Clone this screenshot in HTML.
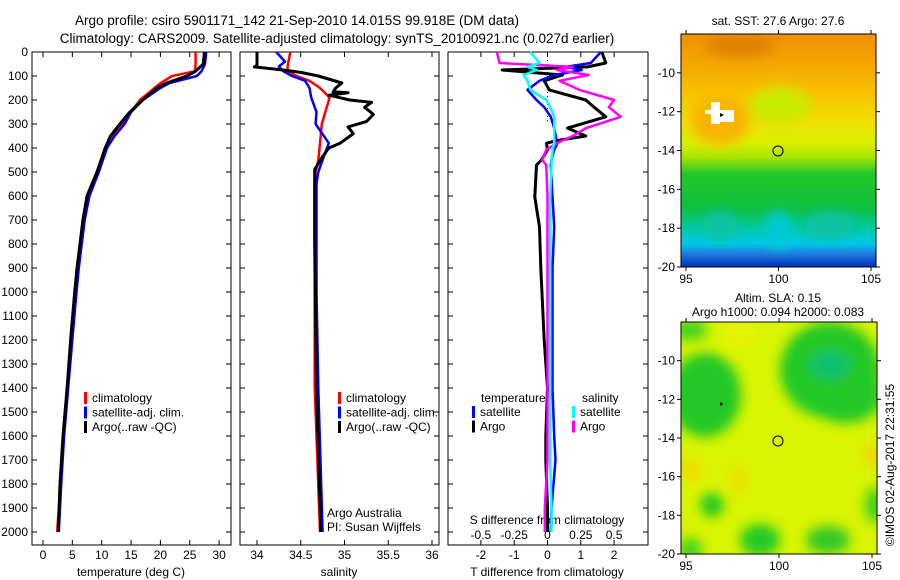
<!DOCTYPE html>
<html><head><meta charset="utf-8"><style>
html,body{margin:0;padding:0;background:#fff;}
svg{display:block;font-family:"Liberation Sans",sans-serif;}
</style></head><body>
<svg id="c" width="900" height="580" viewBox="0 0 900 580">
<defs>
<linearGradient id="sstg" x1="0" y1="0" x2="0" y2="1">
<stop offset="0" stop-color="#f09000"/><stop offset="0.12" stop-color="#f4a400"/>
<stop offset="0.25" stop-color="#f8c000"/><stop offset="0.38" stop-color="#f0e000"/>
<stop offset="0.47" stop-color="#d8f000"/><stop offset="0.53" stop-color="#a8e400"/>
<stop offset="0.6" stop-color="#20c828"/><stop offset="0.75" stop-color="#10c040"/>
<stop offset="0.83" stop-color="#00c8a0"/><stop offset="0.9" stop-color="#00c8e8"/>
<stop offset="0.94" stop-color="#2080e0"/><stop offset="1" stop-color="#0030c0"/>
</linearGradient>
<filter id="bl"><feGaussianBlur stdDeviation="6"/></filter>
<clipPath id="m1"><rect x="681" y="34" width="195" height="233"/></clipPath>
<clipPath id="m2"><rect x="681" y="322" width="196" height="232"/></clipPath>
</defs>
<text x="297" y="25" font-size="13.5" text-anchor="middle">Argo profile: csiro 5901171_142 21-Sep-2010 14.015S 99.918E (DM data)</text>
<text x="337" y="43" font-size="13.5" text-anchor="middle">Climatology: CARS2009. Satellite-adjusted climatology: synTS_20100921.nc (0.027d earlier)</text>
<g id="plots"></g>
<g>
<text x="778" y="25" font-size="12" text-anchor="middle">sat. SST: 27.6 Argo: 27.6</text>
<g clip-path="url(#m1)">
<rect x="681" y="34" width="195" height="233" fill="url(#sstg)"/>
<g filter="url(#bl)">
<ellipse cx="720" cy="225" rx="18" ry="14" fill="#10c0a0"/>
<ellipse cx="830" cy="225" rx="25" ry="14" fill="#10c0a0"/>
<ellipse cx="778" cy="230" rx="12" ry="20" fill="#00c8d8"/>
<ellipse cx="740" cy="45" rx="35" ry="12" fill="#e08000"/>
<ellipse cx="720" cy="120" rx="30" ry="25" fill="#f8b400"/>
<ellipse cx="780" cy="105" rx="30" ry="18" fill="#c8ec00"/>
</g>
<rect x="711" y="102" width="9" height="22" fill="#fff"/><rect x="716" y="110" width="18" height="12" fill="#fff"/>
<rect x="705" y="110" width="8" height="4" fill="#fff"/>
<polygon points="720,113 724,115 720,117" fill="#000"/>
<circle cx="778" cy="151" r="5" fill="none" stroke="#000" stroke-width="1"/>
</g>
<rect x="681" y="34" width="195" height="233" fill="none" stroke="#000"/>
</g>
<g>
<text x="778" y="302" font-size="12" text-anchor="middle">Altim. SLA: 0.15</text>
<text x="778" y="316" font-size="12" text-anchor="middle">Argo h1000: 0.094 h2000: 0.083</text>
<g clip-path="url(#m2)">
<rect x="681" y="322" width="196" height="232" fill="#d8f400"/>
<g filter="url(#bl)">
<ellipse cx="705" cy="395" rx="36" ry="42" fill="#20c828"/>
<ellipse cx="690" cy="330" rx="18" ry="10" fill="#40d020"/>
<ellipse cx="830" cy="370" rx="50" ry="48" fill="#20c828"/>
<ellipse cx="845" cy="395" rx="38" ry="28" fill="#20c828"/>
<ellipse cx="830" cy="365" rx="20" ry="14" fill="#10c070"/>
<ellipse cx="712" cy="505" rx="12" ry="12" fill="#20c828"/>
<ellipse cx="760" cy="540" rx="20" ry="16" fill="#20c828"/>
<ellipse cx="828" cy="540" rx="22" ry="14" fill="#30c828"/>
<ellipse cx="690" cy="550" rx="12" ry="12" fill="#40d020"/>
<ellipse cx="875" cy="505" rx="10" ry="18" fill="#40d020"/>
<ellipse cx="740" cy="335" rx="15" ry="12" fill="#e8f400"/>
<ellipse cx="873" cy="455" rx="10" ry="12" fill="#f0d800"/>
<ellipse cx="738" cy="480" rx="8" ry="15" fill="#f0dc00"/>
<ellipse cx="690" cy="470" rx="12" ry="12" fill="#f0dc00"/>
</g>
<polygon points="720,402 723,404 720,406" fill="#000"/>
<circle cx="778" cy="441" r="5" fill="none" stroke="#000" stroke-width="1"/>
</g>
<rect x="681" y="322" width="196" height="232" fill="none" stroke="#000"/>
</g>
<text transform="translate(894,465) rotate(-90)" font-size="12" text-anchor="middle">©IMOS 02-Aug-2017 22:31:55</text>
</svg>
<script>
// depth levels (m) and profile values
const tDepth=[0,50,80,100,130,150,200,250,300,350,400,500,600,700,800,900,1000,1200,1400,1600,1800,2000];
const tArgo=[27.5,27.3,26,24.5,21,19.4,17,14.8,13.1,11.5,10.6,9.2,7.5,6.8,6.3,5.8,5.4,4.7,4.1,3.4,2.9,2.6];
const tClim=[26,26,25.9,22,20,19,16.5,15,13.6,12,10.8,9.3,7.8,7,6.5,6,5.6,4.9,4.2,3.5,3,2.4];
const tSat=[27.8,27.6,27,26.2,21.5,20,17,15,13.9,12.2,10.9,9.5,7.9,7.1,6.6,6.1,5.7,5,4.3,3.6,3.1,2.7];
const sArgoD=[0,55,62,75,85,100,129,150,166,170,180,200,210,230,260,290,312,340,380,400,440,490,550,800,1400,2000];
const sArgo=[34.0,34.0,33.97,34.3,34.5,34.7,34.97,34.9,34.87,35.04,34.82,35.06,35.31,35.23,35.33,35.25,35.04,35.1,34.95,34.82,34.74,34.66,34.66,34.66,34.68,34.73];
const sD=[0,40,60,80,100,120,150,190,250,300,380,450,500,550,700,1000,1400,2000];
const sClim=[34.38,34.36,34.35,34.35,34.45,34.6,34.72,34.83,34.78,34.74,34.72,34.7,34.67,34.66,34.66,34.66,34.66,34.72];
const sSat=[34.22,34.32,34.25,34.3,34.4,34.55,34.6,34.62,34.68,34.67,34.82,34.75,34.7,34.68,34.68,34.68,34.7,34.75];
const dD=[0,46,62,75,96,120,158,200,230,270,317,350,367,380,408,450,471,604,729,900,1200,1400,1600,1700,1900,2000];
const dTArgo=[1.63,1.75,1.2,-1.36,0.45,-0.1,0.05,1.15,1.4,1.75,0.6,1.15,0.36,-0.03,0,-0.18,-0.33,-0.38,-0.24,-0.2,-0.1,0,-0.05,-0.05,0,0];
const dTSat=[1.6,1.3,0.55,1.03,0.2,-0.24,-0.6,-0.33,-0.1,0.1,0.2,0.25,0.26,0.3,0.2,0.12,0.1,0.15,0.2,0.15,0.15,0.15,0.2,0.24,0.12,0.1];
const dSArgo=[-0.38,-0.36,0.19,0.07,0.31,0.09,0.24,0.5,0.46,0.55,0.29,0.19,0.12,0.07,-0.01,-0.04,-0.01,0,0,0,0,0,0,0,-0.02,-0.02];
const dSSat=[-0.13,-0.06,-0.15,-0.08,-0.18,-0.15,-0.13,-0.01,0.02,0.05,0.05,0.05,0.05,0.05,0.04,0.03,0.03,0.02,0.02,0.02,0.02,0.02,0.02,0.02,0.03,0.03];
const depthTicks=[0,100,200,300,400,500,600,700,800,900,1000,1100,1200,1300,1400,1500,1600,1700,1800,1900,2000];
const tTicks=[0,5,10,15,20,25,30];
const sTicks=[34,34.5,35,35.5,36];
const dtTicks=[-2,-1,0,1,2];
const dsTicks=[-0.5,-0.25,0,0.25,0.5];
const lonTicks=[95,100,105];
const latTicks=[-10,-12,-14,-16,-18,-20];

const NS='http://www.w3.org/2000/svg';
const root=document.getElementById('plots');
const TOP=52,BOT=545;
const yD=d=>TOP+d*0.24;
const xT=v=>43+v*5.87;
const xS=v=>257+(v-34)*87.5;
const xDT=v=>547.5+v*33.3;
const xDS=v=>547.5+v*133.2;
function el(tag,attrs,parent){const e=document.createElementNS(NS,tag);for(const k in attrs)e.setAttribute(k,attrs[k]);(parent||root).appendChild(e);return e;}
function txt(x,y,s,anchor,parent,size){const t=el('text',{x:x,y:y,'font-size':size||12,'text-anchor':anchor||'start'},parent);t.textContent=s;return t;}
function line(depths,vals,xf,color,w,name,parent){
  const pts=depths.map((d,i)=>xf(vals[i]).toFixed(1)+','+yD(d).toFixed(1)).join(' ');
  const p=el('polyline',{points:pts,fill:'none',stroke:color,'stroke-width':w,'stroke-linejoin':'round'},parent);
  
  
}
function panel(x0,x1,name){
  const g=el('g',{});
  
  
  el('rect',{x:x0,y:TOP,width:x1-x0,height:BOT-TOP,fill:'none',stroke:'#000'},g);
  depthTicks.forEach(d=>{el('line',{x1:x0,x2:x0+5,y1:yD(d),y2:yD(d),stroke:'#000'},g);el('line',{x1:x1,x2:x1-5,y1:yD(d),y2:yD(d),stroke:'#000'},g);});
  return g;
}
function xticks(g,ticks,xf,labels){
  ticks.forEach(v=>{const x=xf(v);el('line',{x1:x,x2:x,y1:TOP,y2:TOP+5,stroke:'#000'},g);el('line',{x1:x,x2:x,y1:BOT,y2:BOT-5,stroke:'#000'},g);if(labels)txt(x,559,String(v),'middle',g);});
}
// panel 1
const g1=panel(32,231,'temperature-panel');
depthTicks.forEach(d=>txt(28,yD(d)+4,String(d),'end',g1));
xticks(g1,tTicks,xT,true);
txt(131,576,'temperature (deg C)','middle',g1);
line(tDepth,tClim,xT,'#f00',2.5,'temp-climatology-line',g1);
line(tDepth,tSat,xT,'#00f',2.5,'temp-satellite-line',g1);
line(tDepth,tArgo,xT,'#000',3,'temp-argo-line',g1);
// panel 2
const g2=panel(240,439,'salinity-panel');
xticks(g2,sTicks,xS,true);
txt(339,576,'salinity','middle',g2);
line(sD,sClim,xS,'#f00',2.5,'sal-climatology-line',g2);
line(sD,sSat,xS,'#00f',2.5,'sal-satellite-line',g2);
line(sArgoD,sArgo,xS,'#000',3,'sal-argo-line',g2);
txt(327,517,'Argo Australia','start',g2);
txt(327,531,'PI: Susan Wijffels','start',g2);
// panel 3
const g3=panel(448,648,'difference-panel');
dtTicks.forEach(v=>{const x=xDT(v);el('line',{x1:x,x2:x,y1:BOT,y2:BOT-5,stroke:'#000'},g3);txt(x,559,String(v),'middle',g3);});
dsTicks.forEach(v=>{const x=xDS(v);el('line',{x1:x,x2:x,y1:TOP,y2:TOP+5,stroke:'#000'},g3);txt(x,539,String(v),'middle',g3);});
txt(547,576,'T difference from climatology','middle',g3);
txt(547,524,'S difference from climatology','middle',g3);
el('line',{x1:547.5,x2:547.5,y1:TOP,y2:yD(300),stroke:'#000','stroke-dasharray':'1,3'},g3);
line(dD,dTArgo,xDT,'#000',3,'tdiff-argo-line',g3);
line(dD,dTSat,xDT,'#00f',2.5,'tdiff-satellite-line',g3);
line(dD,dSArgo,xDS,'#f0f',2.5,'sdiff-argo-line',g3);
line(dD,dSSat,xDS,'#0ff',2.5,'sdiff-satellite-line',g3);
// legends
function legend(g,x,y,items,name){
  const lg=el('g',{},g);
  
  
  items.forEach((it,i)=>{const yy=y+i*14.5;if(it[1])el('rect',{x:x,y:yy-10,width:3,height:12,fill:it[1]},lg);txt(x+(it[1]?8:0),yy,it[0],'start',lg);});
}
legend(g1,84,402,[['climatology','#f00'],['satellite-adj. clim.','#00f'],['Argo(..raw -QC)','#000']],'temp-legend');
legend(g2,338,402,[['climatology','#f00'],['satellite-adj. clim.','#00f'],['Argo(..raw -QC)','#000']],'sal-legend');
legend(g3,481,402,[['temperature',null]],'tdiff-legend-title');
legend(g3,472,416,[['satellite','#00f'],['Argo','#000']],'tdiff-legend');
legend(g3,582,402,[['salinity',null]],'sdiff-legend-title');
legend(g3,572,416,[['satellite','#0ff'],['Argo','#f0f']],'sdiff-legend');
// map axes
const svg=document.getElementById('c');
function mapAxes(x0,x1,yTop,yBot,latTop,name){
  const g=el('g',{},svg);
  
  
  const lx=v=>x0+5+(v-95)*(x1-x0-10)/10;
  const ly=v=>yTop+(latTop-v)*(yBot-yTop)/12;
  lonTicks.forEach(v=>{el('line',{x1:lx(v),x2:lx(v),y1:yTop,y2:yTop-4,stroke:'#000'},g);el('line',{x1:lx(v),x2:lx(v),y1:yBot,y2:yBot+4,stroke:'#000'},g);txt(lx(v),yBot+16,String(v),'middle',g);});
  latTicks.forEach(v=>{el('line',{x1:x0,x2:x0-4,y1:ly(v),y2:ly(v),stroke:'#000'},g);el('line',{x1:x1,x2:x1+4,y1:ly(v),y2:ly(v),stroke:'#000'},g);txt(x0-6,ly(v)+4,String(v),'end',g);});
}
mapAxes(681,876,34,267,-8,'sst-map-axes');
mapAxes(681,877,322,554,-8,'sla-map-axes');
</script>
</body></html>
